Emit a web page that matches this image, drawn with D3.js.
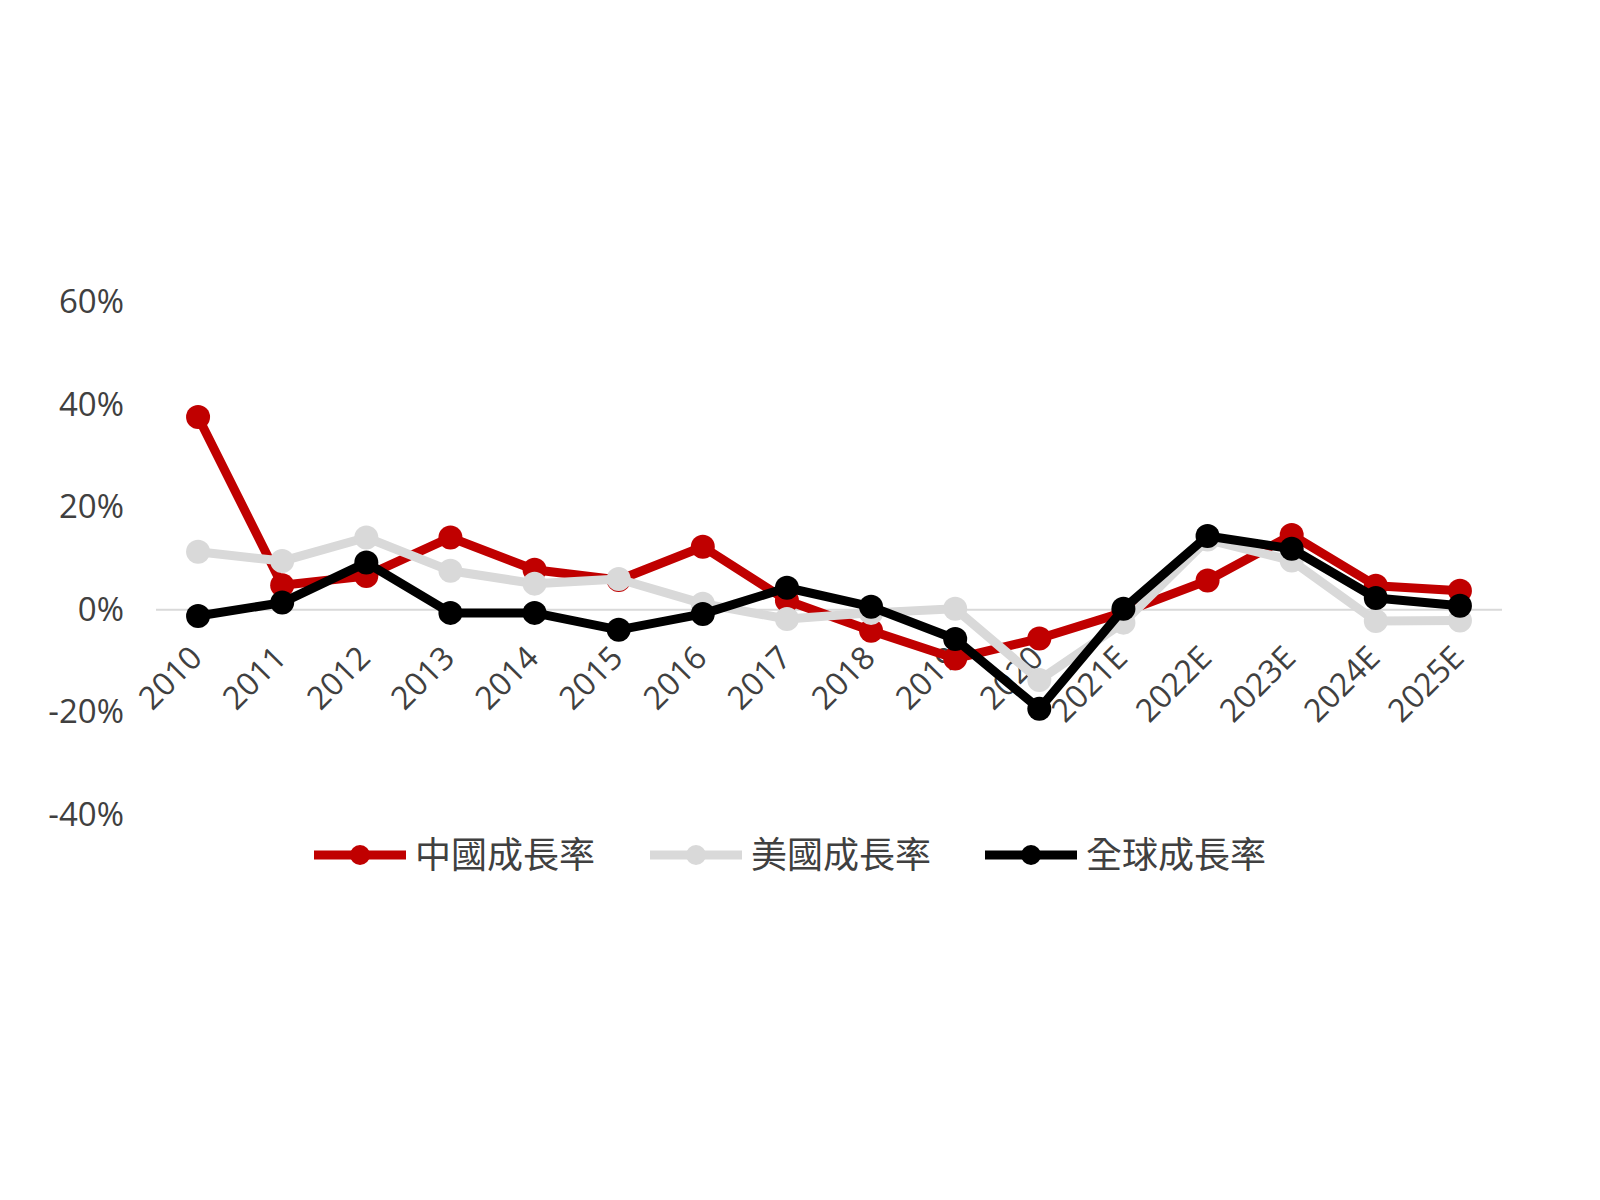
<!DOCTYPE html>
<html>
<head>
<meta charset="utf-8">
<script src="https://cdn.jsdelivr.net/npm/d3@7"></script>
<style>
  html, body { margin: 0; padding: 0; background: #ffffff; }
  svg { display: block; }
</style>
</head>
<body>
<svg id="chart" width="1600" height="1200"></svg>
<script>
const categories = ["2010","2011","2012","2013","2014","2015","2016","2017","2018","2019","2020","2021E","2022E","2023E","2024E","2025E"];
const chinaGrowth = [0.376, 0.048, 0.066, 0.141, 0.078, 0.058, 0.123, 0.018, -0.041, -0.095, -0.056, -0.005, 0.057, 0.146, 0.047, 0.037];
const usGrowth    = [0.113, 0.095, 0.141, 0.076, 0.051, 0.060, 0.012, -0.018, -0.006, 0.002, -0.137, -0.025, 0.137, 0.096, -0.022, -0.021];
const globalGrowth= [-0.012, 0.014, 0.092, -0.006, -0.006, -0.039, -0.008, 0.043, 0.006, -0.057, -0.193, 0.002, 0.144, 0.119, 0.023, 0.008];
const yTicks = [-0.4, -0.2, 0, 0.2, 0.4, 0.6];
const seriesNames = ["中國成長率", "美國成長率", "全球成長率"];
const seriesColors = ["#C00000", "#D9D9D9", "#000000"];

const series = [chinaGrowth, usGrowth, globalGrowth].map((v, i) => ({
  name: seriesNames[i], color: seriesColors[i], values: v
}));

const svg = d3.select("#chart");
svg.append("rect").attr("width", 1600).attr("height", 1200).attr("fill", "#fff");

const plotLeft = 156, plotRight = 1502, plotTop = 302, plotBottom = 815;
const x = d3.scaleBand().domain(categories).range([plotLeft, plotRight]);
const y = d3.scaleLinear().domain([-0.4, 0.6]).range([plotBottom, plotTop]);
const cx = c => x(c) + x.bandwidth() / 2;

const font = "'Open Sans', 'Noto Sans CJK TC', sans-serif";
const textColor = "#404040";
const pct = d => Math.round(d * 100) + "%";

// Y axis labels
const yAxis = d3.axisLeft(y).tickValues(yTicks).tickFormat(pct).tickSize(0).tickPadding(0);
const yg = svg.append("g").attr("transform", `translate(${plotLeft - 32},0)`).call(yAxis);
yg.select(".domain").remove();
yg.selectAll("text").attr("font-family", font).attr("font-size", 33).attr("fill", textColor);

// zero line
svg.append("line")
  .attr("x1", plotLeft).attr("x2", plotRight)
  .attr("y1", y(0)).attr("y2", y(0))
  .attr("stroke", "#D9D9D9").attr("stroke-width", 2);

// X labels (rotated), drawn beneath series
svg.append("g").selectAll("text").data(categories).join("text")
  .attr("transform", d => `translate(${cx(d) - 2},${y(0) + 42}) rotate(-45)`)
  .attr("text-anchor", "end")
  .attr("dy", "0.35em")
  .attr("font-family", font).attr("font-size", 32).attr("fill", textColor)
  .text(d => d);

// Series
const line = d3.line().x((d, i) => cx(categories[i])).y(d => y(d));
series.forEach(s => {
  const g = svg.append("g");
  g.append("path").datum(s.values)
    .attr("d", line).attr("fill", "none")
    .attr("stroke", s.color).attr("stroke-width", 9)
    .attr("stroke-linejoin", "round");
  g.selectAll("circle").data(s.values).join("circle")
    .attr("cx", (d, i) => cx(categories[i])).attr("cy", d => y(d))
    .attr("r", 12).attr("fill", s.color);
});

// Legend
const legendY = 855;
const legendX = [314, 650, 985];
series.forEach((s, i) => {
  const g = svg.append("g").attr("transform", `translate(${legendX[i]},${legendY})`);
  g.append("line").attr("x1", 0).attr("x2", 92).attr("y1", 0).attr("y2", 0)
    .attr("stroke", s.color).attr("stroke-width", 9);
  g.append("circle").attr("cx", 46).attr("cy", 0).attr("r", 10).attr("fill", s.color);
  g.append("text").attr("x", 101).attr("y", 0).attr("dy", "0.36em")
    .attr("font-family", "'Noto Sans CJK TC', sans-serif").attr("font-size", 36)
    .attr("fill", textColor).text(s.name);
});
</script>
</body>
</html>
